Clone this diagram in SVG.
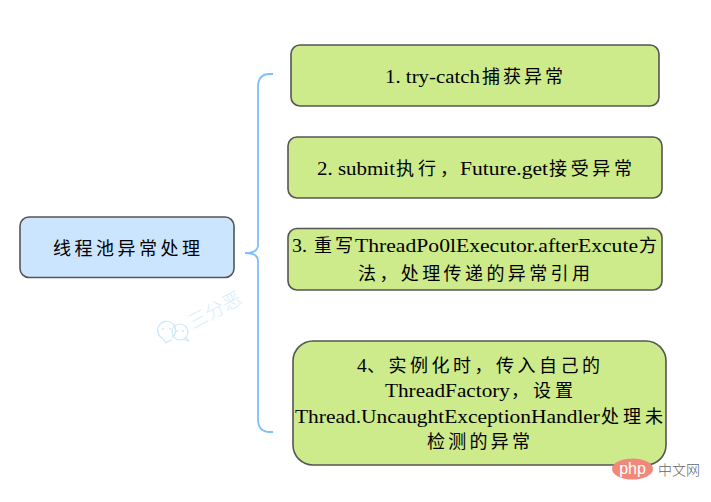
<svg xmlns="http://www.w3.org/2000/svg" width="711" height="502" viewBox="0 0 711 502">
  <style>
    .root { fill: #cce5ff; stroke: #555; stroke-width: 1.6; }
    .item { fill: #cdeb8b; stroke: #555; stroke-width: 1.6; }
    .brace { fill: none; stroke: #7fbfff; stroke-width: 1.8; }
    text { fill: #000; font-size: 18px; font-family: "Noto Sans CJK SC", sans-serif; }
    .lat { font-family: "Liberation Serif", "Noto Sans CJK SC", serif; font-size: 19.500px; }
    .mark { fill: none; stroke: #cde8fb; stroke-width: 1.2; }
    .dot { fill: #cde8fb; }
  </style>

  <g id="connectors">
    <path class="brace" d="M273 74 H270 Q258 74 258 87 V245 Q258 253 245 253 Q258 253 258 261 V419 Q258 432 270 432 H273"/>
  </g>

  <g id="root">
    <rect class="root" x="20" y="217" width="214" height="60.500" rx="9"/>
    <text x="53" y="255" textLength="147" lengthAdjust="spacing">线程池异常处理</text>
  </g>

  <g id="item1">
    <rect class="item" x="291" y="45" width="368" height="61" rx="9"/>
    <text y="83"><tspan class="lat" x="385" textLength="95" lengthAdjust="spacingAndGlyphs">1. try-catch</tspan><tspan x="482" textLength="81" lengthAdjust="spacing">捕获异常</tspan></text>
  </g>

  <g id="item2">
    <rect class="item" x="288" y="137" width="374" height="61" rx="9"/>
    <text y="175"><tspan class="lat" x="317" textLength="78" lengthAdjust="spacingAndGlyphs">2. submit</tspan><tspan x="396" textLength="62" lengthAdjust="spacing">执行，</tspan><tspan class="lat" x="460" textLength="88" lengthAdjust="spacingAndGlyphs">Future.get</tspan><tspan x="549" textLength="83" lengthAdjust="spacing">接受异常</tspan></text>
  </g>

  <g id="item3">
    <rect class="item" x="288" y="228.500" width="374" height="61.500" rx="9"/>
    <text y="252"><tspan class="lat" x="292" textLength="15" lengthAdjust="spacingAndGlyphs">3.</tspan><tspan x="314" textLength="39" lengthAdjust="spacing">重写</tspan><tspan class="lat" x="355" textLength="283" lengthAdjust="spacingAndGlyphs">ThreadPo0lExecutor.afterExcute</tspan><tspan x="639">方</tspan></text>
    <text x="358" y="280" textLength="232" lengthAdjust="spacing">法，处理传递的异常引用</text>
  </g>

  <g id="item4">
    <rect class="item" x="293" y="341" width="373" height="124" rx="20"/>
    <text y="372"><tspan class="lat" x="357">4</tspan><tspan x="367" textLength="233" lengthAdjust="spacing">、实例化时，传入自己的</tspan></text>
    <text y="397"><tspan class="lat" x="385" textLength="125" lengthAdjust="spacingAndGlyphs">ThreadFactory</tspan><tspan x="511" textLength="62" lengthAdjust="spacing">，设置</tspan></text>
    <text y="423"><tspan class="lat" x="295" textLength="305" lengthAdjust="spacingAndGlyphs">Thread.UncaughtExceptionHandler</tspan><tspan x="601" textLength="62" lengthAdjust="spacing">处理未</tspan></text>
    <text x="427" y="448" textLength="103" lengthAdjust="spacing">检测的异常</text>
  </g>

  <!-- author mark: chat bubbles and name, set on a slant -->
  <g id="author-mark">
    <path class="mark" d="M163 338.500 A9 9 0 1 1 172 337.500 M163 338.500 L166 343 L172 339.500"/>
    <circle class="mark" cx="180" cy="332" r="8"/>
    <path class="mark" d="M186 337 L188.500 341 L184 339.500"/>
    <circle class="dot" cx="163" cy="329" r="1"/>
    <circle class="dot" cx="170" cy="329" r="1"/>
    <circle class="dot" cx="177" cy="331" r="1"/>
    <circle class="dot" cx="183" cy="331" r="1"/>
    <text text-anchor="middle" transform="translate(218 316) rotate(-28)" style="font-size:19px;fill:#d6edfc;font-weight:300">三分恶</text>
  </g>

  <!-- site badge -->
  <g id="site-badge">
    <ellipse cx="632.500" cy="469" rx="20.500" ry="10.500" fill="#f0897b"/>
    <text x="632.500" y="473.500" text-anchor="middle" style="font-size:16px;fill:#fff;font-family:'Liberation Sans',sans-serif">php</text>
    <text x="658" y="474.500" style="font-size:14px;fill:#666;font-weight:300">中文网</text>
  </g>
</svg>
